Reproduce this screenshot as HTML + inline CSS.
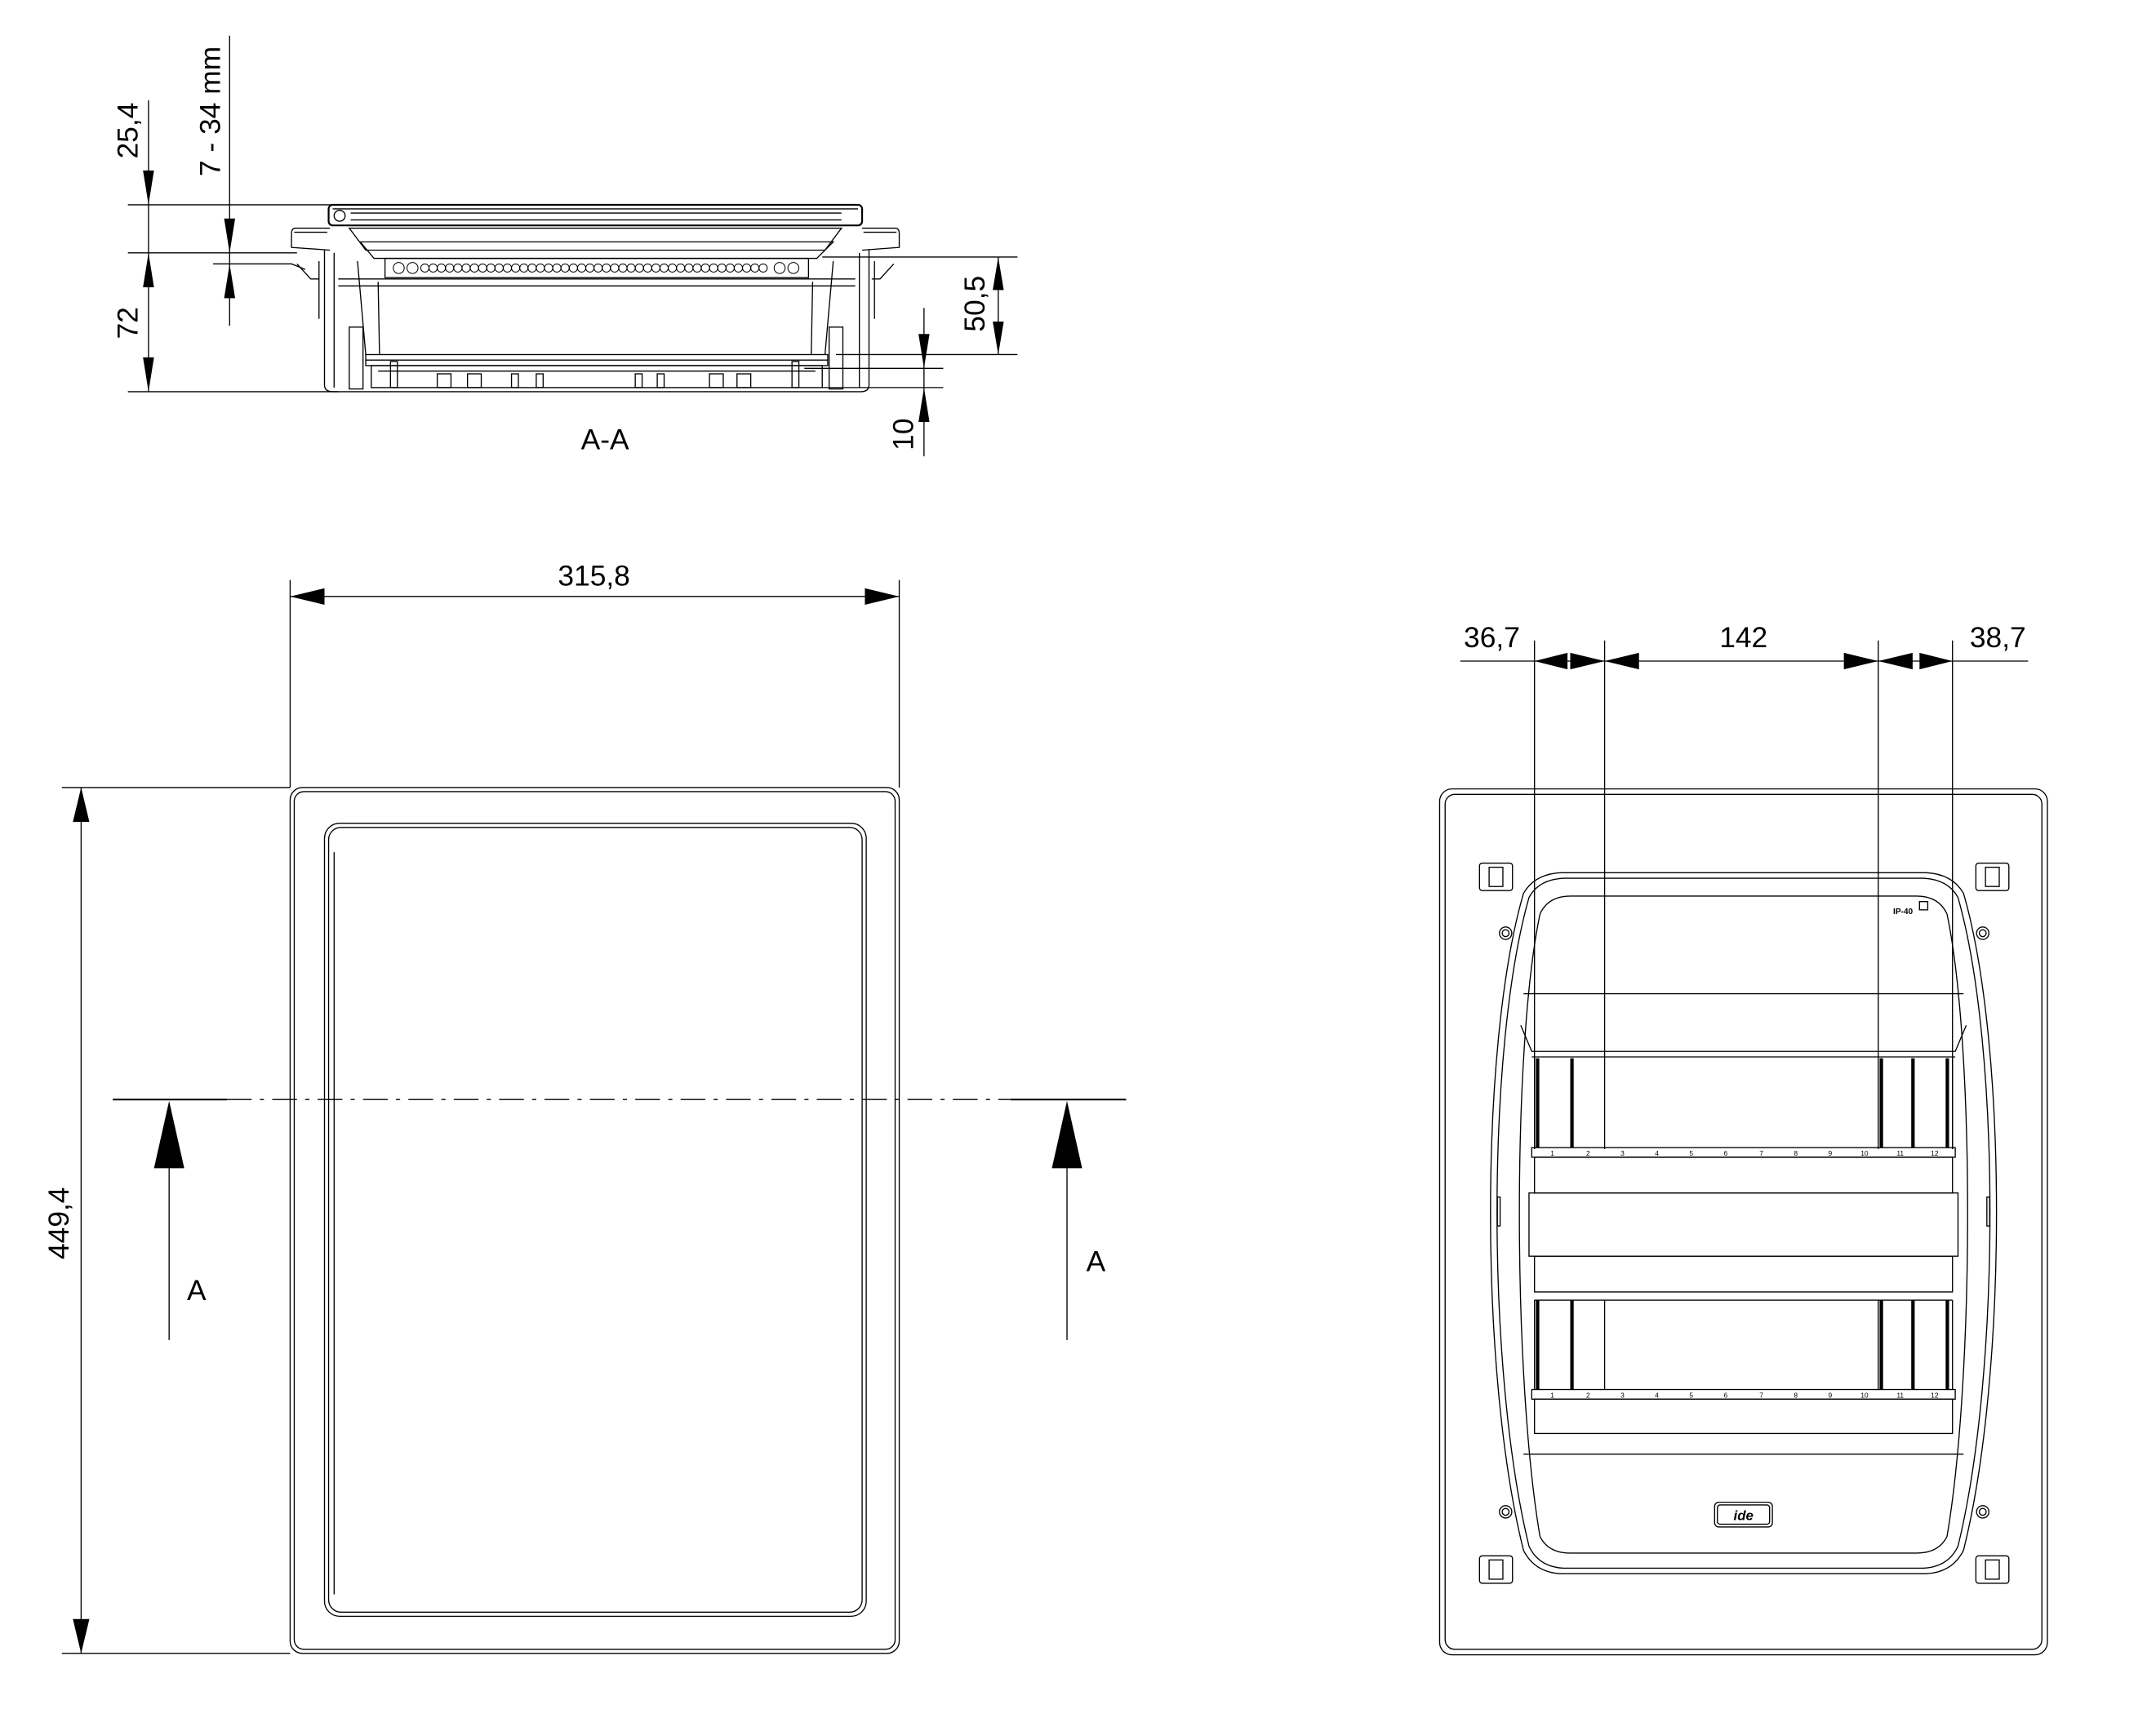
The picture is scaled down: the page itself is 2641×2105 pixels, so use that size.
<!DOCTYPE html>
<html><head><meta charset="utf-8"><style>
html,body{margin:0;padding:0;background:#fff}
svg{display:block}
text{font-family:"Liberation Sans",Arial,sans-serif;fill:#000}
</style></head><body>
<svg width="2641" height="2105" viewBox="0 0 1568 1250" preserveAspectRatio="none" xmlns="http://www.w3.org/2000/svg">
<g fill="none" stroke="#000" stroke-width="0.8">
<line x1="108" y1="73" x2="108" y2="285"/>
<line x1="93" y1="149" x2="241" y2="149"/>
<line x1="93" y1="184" x2="216" y2="184"/>
<line x1="93" y1="285" x2="246" y2="285"/>
<line x1="167" y1="26" x2="167" y2="237"/>
<polyline points="155,192 212,192 222,196"/>
<line x1="598" y1="187" x2="740" y2="187"/>
<line x1="608" y1="258" x2="740" y2="258"/>
<line x1="726" y1="187" x2="726" y2="258"/>
<line x1="585" y1="268" x2="686" y2="268"/>
<line x1="598" y1="282" x2="686" y2="282"/>
<line x1="672" y1="224" x2="672" y2="332"/>
<rect x="239" y="149" width="388" height="15" rx="3" stroke-width="1.3"/>
<line x1="242" y1="152" x2="624" y2="152"/>
<line x1="255" y1="155" x2="612" y2="155"/>
<line x1="255" y1="160" x2="612" y2="160"/>
<circle cx="247" cy="157" r="4"/>
<path d="M240,166 L215,166 Q212,166 212,170 L212,180 L240,182"/>
<path d="M627,166 L651,166 Q654,166 654,170 L654,180 L627,182"/>
<line x1="214" y1="169" x2="238" y2="169"/>
<line x1="628" y1="169" x2="652" y2="169"/>
<polyline points="216,192 226,203 232,203"/>
<polyline points="650,192 640,203 634,203"/>
<path d="M236,182 L236,280 Q236,285 242,285 L626,285 Q632,285 632,280 L632,182"/>
<line x1="243" y1="184" x2="243" y2="282"/>
<line x1="625" y1="184" x2="625" y2="282"/>
<line x1="232" y1="190" x2="232" y2="232"/>
<line x1="636" y1="190" x2="636" y2="232"/>
<path d="M254,166 L612,166 L600,182 L266,182 Z"/>
<path d="M262,176 L606,176 L594,188 L272,188 Z"/>
<rect x="280" y="188" width="308" height="14"/>
<g stroke-width="0.6">
<circle cx="290" cy="195" r="4"/><circle cx="300" cy="195" r="4"/>
<circle cx="309" cy="195" r="3"/><circle cx="315" cy="195" r="3"/><circle cx="321" cy="195" r="3"/><circle cx="327" cy="195" r="3"/><circle cx="333" cy="195" r="3"/><circle cx="339" cy="195" r="3"/><circle cx="345" cy="195" r="3"/><circle cx="351" cy="195" r="3"/><circle cx="357" cy="195" r="3"/><circle cx="363" cy="195" r="3"/><circle cx="369" cy="195" r="3"/><circle cx="375" cy="195" r="3"/><circle cx="381" cy="195" r="3"/><circle cx="387" cy="195" r="3"/><circle cx="393" cy="195" r="3"/><circle cx="399" cy="195" r="3"/><circle cx="405" cy="195" r="3"/><circle cx="411" cy="195" r="3"/><circle cx="417" cy="195" r="3"/><circle cx="423" cy="195" r="3"/><circle cx="429" cy="195" r="3"/><circle cx="435" cy="195" r="3"/><circle cx="441" cy="195" r="3"/><circle cx="447" cy="195" r="3"/><circle cx="453" cy="195" r="3"/><circle cx="459" cy="195" r="3"/><circle cx="465" cy="195" r="3"/><circle cx="471" cy="195" r="3"/><circle cx="477" cy="195" r="3"/><circle cx="483" cy="195" r="3"/><circle cx="489" cy="195" r="3"/><circle cx="495" cy="195" r="3"/><circle cx="501" cy="195" r="3"/><circle cx="507" cy="195" r="3"/><circle cx="513" cy="195" r="3"/><circle cx="519" cy="195" r="3"/><circle cx="525" cy="195" r="3"/><circle cx="531" cy="195" r="3"/><circle cx="537" cy="195" r="3"/><circle cx="543" cy="195" r="3"/><circle cx="549" cy="195" r="3"/><circle cx="555" cy="195" r="3"/>
<circle cx="567" cy="195" r="4"/><circle cx="577" cy="195" r="4"/>
</g>
<line x1="246" y1="203" x2="622" y2="203"/>
<line x1="246" y1="208" x2="622" y2="208"/>
<line x1="260" y1="190" x2="266" y2="258"/>
<line x1="606" y1="190" x2="600" y2="258"/>
<line x1="275" y1="205" x2="276" y2="258"/>
<line x1="591" y1="205" x2="590" y2="258"/>
<rect x="254" y="238" width="10" height="45"/>
<rect x="603" y="238" width="10" height="45"/>
<rect x="266" y="258" width="336" height="8"/>
<line x1="266" y1="262" x2="602" y2="262"/>
<rect x="270" y="266" width="328" height="16"/>
<line x1="275" y1="270" x2="593" y2="270"/>
<rect x="284" y="263" width="5" height="19"/><rect x="576" y="263" width="5" height="19"/>
<rect x="318" y="272" width="10" height="10"/><rect x="340" y="272" width="10" height="10"/>
<rect x="372" y="272" width="5" height="10"/><rect x="390" y="272" width="5" height="10"/>
<rect x="462" y="272" width="5" height="10"/><rect x="478" y="272" width="5" height="10"/>
<rect x="516" y="272" width="10" height="10"/><rect x="536" y="272" width="10" height="10"/>
</g>
<g fill="#000" stroke="none">
<polygon points="108,149 104,124 112,124"/>
<polygon points="108,184 104,209 112,209"/>
<polygon points="108,285 104,260 112,260"/>
<polygon points="167,184 163,159 171,159"/>
<polygon points="167,192 163,217 171,217"/>
<polygon points="726,187 722,211 730,211"/>
<polygon points="726,258 722,234 730,234"/>
<polygon points="672,268 668,243 676,243"/>
<polygon points="672,282 668,307 676,307"/>
</g>
<g font-size="21">
<text transform="translate(100,95) rotate(-90)" text-anchor="middle">25,4</text>
<text transform="translate(100,235) rotate(-90)" text-anchor="middle">72</text>
<text transform="translate(160,81) rotate(-90)" text-anchor="middle">7 - 34 mm</text>
<text transform="translate(716,221) rotate(-90)" text-anchor="middle">50,5</text>
<text transform="translate(664,316) rotate(-90)" text-anchor="middle">10</text>
<text x="440" y="327" text-anchor="middle">A-A</text>
</g>

<g fill="none" stroke="#000" stroke-width="0.8">
<line x1="211" y1="422" x2="211" y2="573"/>
<line x1="654" y1="422" x2="654" y2="573"/>
<line x1="211" y1="434" x2="654" y2="434"/>
<line x1="45" y1="573" x2="211" y2="573"/>
<line x1="45" y1="1203" x2="211" y2="1203"/>
<line x1="59" y1="573" x2="59" y2="1203"/>
<rect x="211" y="573" width="443" height="630" rx="9"/>
<rect x="214" y="576" width="437" height="624" rx="7"/>
<rect x="236" y="599" width="394" height="577" rx="11"/>
<rect x="239" y="602" width="388" height="571" rx="9"/>
<line x1="243" y1="620" x2="243" y2="1160"/>
<line x1="82" y1="800" x2="165" y2="800" stroke-width="1.2"/>
<line x1="735" y1="800" x2="819" y2="800" stroke-width="1.2"/>
<line x1="165" y1="800" x2="735" y2="800" stroke-dasharray="18,6,3,6"/>
<line x1="123" y1="850" x2="123" y2="975"/>
<line x1="776" y1="850" x2="776" y2="975"/>
</g>
<g fill="#000">
<polygon points="211,434 236,428 236,440"/>
<polygon points="654,434 629,428 629,440"/>
<polygon points="59,573 53,598 65,598"/>
<polygon points="59,1203 53,1178 65,1178"/>
<polygon points="123,801 112,850 134,850"/>
<polygon points="776,801 765,850 787,850"/>
</g>
<g font-size="21">
<text x="432" y="426" text-anchor="middle">315,8</text>
<text transform="translate(50,890) rotate(-90)" text-anchor="middle">449,4</text>
<text x="143" y="946" text-anchor="middle">A</text>
<text x="797" y="925" text-anchor="middle">A</text>
</g>

<g fill="none" stroke="#000" stroke-width="0.8">
<line x1="1062" y1="481" x2="1475" y2="481"/>
<line x1="1116" y1="466" x2="1116" y2="836"/>
<line x1="1167" y1="466" x2="1167" y2="836"/>
<line x1="1366" y1="466" x2="1366" y2="836"/>
<line x1="1420" y1="466" x2="1420" y2="836"/>
<rect x="1047" y="574" width="442" height="630" rx="9"/>
<rect x="1051" y="578" width="434" height="622" rx="7"/>
<!-- cover lens (barrel) -->
<path d="M1135,635 L1401,635 Q1420,636 1428,650 C1460,760 1460,1000 1428,1128 Q1420,1144 1401,1145 L1135,1145 Q1116,1144 1108,1128 C1076,1000 1076,760 1108,650 Q1116,636 1135,635 Z"/>
<path d="M1137,639 L1399,639 Q1417,640 1424,653 C1455,762 1455,998 1424,1125 Q1417,1140 1399,1141 L1137,1141 Q1119,1140 1112,1125 C1081,998 1081,762 1112,653 Q1119,640 1137,639 Z"/>
<path d="M1120,665 Q1126,652 1142,652 L1394,652 Q1410,652 1416,665"/>
<path d="M1120,665 C1100,760 1100,1000 1120,1118"/>
<path d="M1416,665 C1436,760 1436,1000 1416,1118"/>
<path d="M1120,1118 Q1126,1130 1142,1130 L1394,1130 Q1410,1130 1416,1118"/>
<line x1="1108" y1="723" x2="1428" y2="723"/>
<path d="M1106,746 L1114,765 L1422,765 L1430,746"/>
<line x1="1114" y1="769" x2="1422" y2="769"/>
<line x1="1116" y1="769" x2="1116" y2="836"/>
<line x1="1420" y1="769" x2="1420" y2="836"/>
<rect x="1114" y="835" width="308" height="7"/>
<rect x="1116" y="842" width="304" height="26"/>
<rect x="1112" y="868" width="312" height="46"/>
<rect x="1116" y="914" width="304" height="26"/>
<line x1="1116" y1="946" x2="1420" y2="946"/>
<line x1="1116" y1="946" x2="1116" y2="1011"/>
<line x1="1420" y1="946" x2="1420" y2="1011"/>
<line x1="1167" y1="946" x2="1167" y2="1011"/>
<line x1="1366" y1="946" x2="1366" y2="1011"/>
<rect x="1114" y="1011" width="308" height="7"/>
<rect x="1116" y="1018" width="304" height="25"/>
<line x1="1108" y1="1058" x2="1428" y2="1058"/>
<rect x="1247" y="1093" width="42" height="18" rx="3"/>
<rect x="1249" y="1095" width="38" height="14" rx="2"/>
<rect x="1076" y="628" width="24" height="20" rx="2"/><rect x="1083" y="631" width="10" height="14"/>
<rect x="1437" y="628" width="24" height="20" rx="2"/><rect x="1444" y="631" width="10" height="14"/>
<rect x="1076" y="1132" width="24" height="20" rx="2"/><rect x="1083" y="1135" width="10" height="14"/>
<rect x="1437" y="1132" width="24" height="20" rx="2"/><rect x="1444" y="1135" width="10" height="14"/>
<circle cx="1095" cy="679" r="4.5"/><circle cx="1095" cy="679" r="2.5"/>
<circle cx="1442" cy="679" r="4.5"/><circle cx="1442" cy="679" r="2.5"/>
<circle cx="1095" cy="1100" r="4.5"/><circle cx="1095" cy="1100" r="2.5"/>
<circle cx="1442" cy="1100" r="4.5"/><circle cx="1442" cy="1100" r="2.5"/>
<rect x="1089" y="871" width="2" height="21"/>
<rect x="1445" y="871" width="2" height="21"/>
<rect x="1396" y="656" width="6" height="6"/>
</g>
<g fill="#000">
<rect x="1117" y="770" width="2.5" height="65"/><rect x="1142" y="770" width="2.5" height="65"/>
<rect x="1367" y="770" width="2.5" height="65"/><rect x="1390" y="770" width="2.5" height="65"/><rect x="1415" y="770" width="2.5" height="65"/>
<rect x="1117" y="946" width="2.5" height="65"/><rect x="1142" y="946" width="2.5" height="65"/>
<rect x="1367" y="946" width="2.5" height="65"/><rect x="1390" y="946" width="2.5" height="65"/><rect x="1415" y="946" width="2.5" height="65"/>
<polygon points="1116,481 1140,475 1140,487"/>
<polygon points="1167,481 1142,475 1142,487"/>
<polygon points="1167,481 1192,475 1192,487"/>
<polygon points="1366,481 1341,475 1341,487"/>
<polygon points="1366,481 1391,475 1391,487"/>
<polygon points="1420,481 1396,475 1396,487"/>
</g>
<g font-size="21">
<text x="1085" y="471" text-anchor="middle">36,7</text>
<text x="1268" y="471" text-anchor="middle">142</text>
<text x="1453" y="471" text-anchor="middle">38,7</text>
</g>
<text x="1384" y="665" font-size="6" font-weight="bold" text-anchor="middle">IP-40</text>
<text x="1268" y="1106" font-size="10" font-style="italic" font-weight="bold" text-anchor="middle">ide</text>
<g font-size="5" text-anchor="middle">
<text x="1129" y="841">1</text><text x="1155" y="841">2</text><text x="1180" y="841">3</text><text x="1205" y="841">4</text><text x="1230" y="841">5</text><text x="1255" y="841">6</text><text x="1281" y="841">7</text><text x="1306" y="841">8</text><text x="1331" y="841">9</text><text x="1356" y="841">10</text><text x="1382" y="841">11</text><text x="1407" y="841">12</text>
<text x="1129" y="1017">1</text><text x="1155" y="1017">2</text><text x="1180" y="1017">3</text><text x="1205" y="1017">4</text><text x="1230" y="1017">5</text><text x="1255" y="1017">6</text><text x="1281" y="1017">7</text><text x="1306" y="1017">8</text><text x="1331" y="1017">9</text><text x="1356" y="1017">10</text><text x="1382" y="1017">11</text><text x="1407" y="1017">12</text>
</g>
</svg>
</body></html>
